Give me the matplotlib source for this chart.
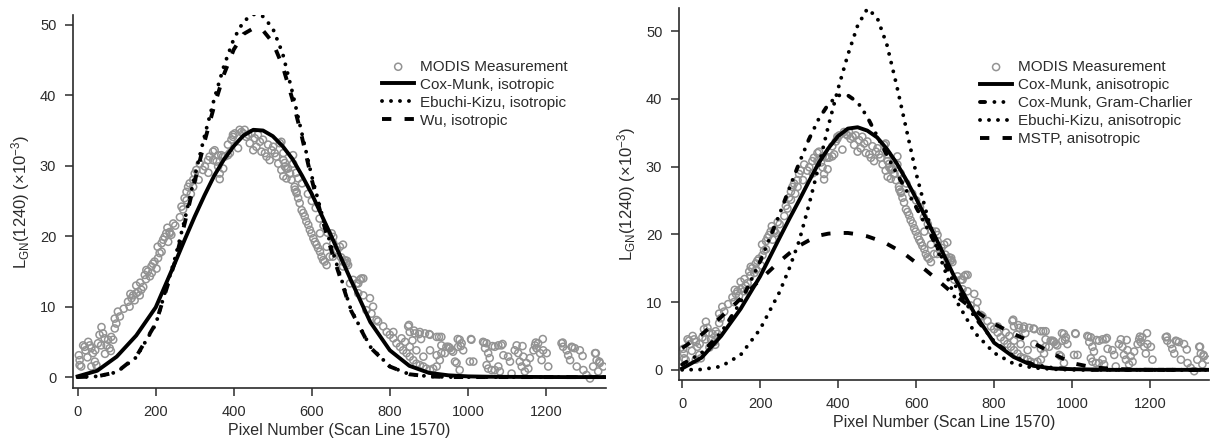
import matplotlib
matplotlib.use("Agg")
import matplotlib.pyplot as plt

plt.rcParams['font.family'] = ['Liberation Sans', 'DejaVu Sans']
plt.rcParams['mathtext.default'] = 'regular'

# curve sample positions (pixel number)
cx = [0, 50, 100, 150, 200, 250,
      275, 300, 325, 350, 375, 400, 425, 450, 475, 500, 525, 550, 575, 600, 625, 650,
      700, 750, 800, 850, 900, 950, 1000, 1050, 1100, 1150, 1200, 1250, 1300, 1350]

# left panel: isotropic models
cm_iso = [0.1, 0.9, 2.9, 5.9, 9.9, 16.3,
          19.6, 22.8, 25.8, 28.6, 30.9, 32.8, 34.3, 35.1, 35.0, 34.2, 32.8, 31.0, 28.6, 26.0, 23.0, 20.0,
          13.8, 7.8, 3.8, 1.6, 0.6, 0.25, 0.1, 0.05, 0.03, 0.02, 0.01, 0, 0, 0]
ek_iso = [0, 0.1, 0.7, 2.8, 7.5, 17.0,
          22.5, 28.5, 34.2, 39.5, 44.2, 48.0, 50.5, 51.5, 51.2, 49.5, 46.0, 40.5, 34.5, 28.5, 23.3, 18.5,
          9.6, 4.3, 1.5, 0.4, 0.1, 0, 0, 0, 0, 0, 0, 0, 0, 0]
wu_iso = [0, 0.1, 0.7, 2.9, 7.6, 16.5,
          22.0, 27.8, 33.4, 38.5, 43.0, 46.5, 48.7, 49.5, 49.2, 47.5, 44.2, 39.5, 34.0, 28.0, 22.8, 18.0,
          9.5, 4.2, 1.5, 0.4, 0.1, 0, 0, 0, 0, 0, 0, 0, 0, 0]

# right panel: anisotropic models
cm_aniso = [0.2, 1.8, 5.0, 9.0, 13.8, 19.5,
            22.3, 25.0, 27.8, 30.5, 32.7, 34.5, 35.6, 35.8, 35.3, 34.3, 32.6, 30.5, 28.0, 25.3, 22.4, 19.5,
            13.5, 8.3, 4.0, 1.9, 0.6, 0.2, 0.1, 0.05, 0, 0, 0, 0, 0, 0]
gc_aniso = [0.8, 2.5, 5.5, 10.0, 16.0, 23.0,
            26.8, 30.5, 34.0, 37.0, 39.2, 40.5, 40.5, 39.5, 37.3, 34.5, 31.7, 29.0, 26.5, 24.0, 21.3, 18.5,
            12.5, 7.8, 4.2, 2.0, 0.8, 0.3, 0.1, 0, 0, 0, 0, 0, 0, 0]
ek_aniso = [0, 0.05, 0.5, 2.2, 6.0, 11.5,
            15.0, 19.0, 24.3, 30.0, 36.0, 41.5, 46.5, 50.8, 53.3, 52.0, 48.0, 42.0, 35.5, 29.0, 23.5, 18.5,
            10.5, 5.5, 2.5, 0.9, 0.3, 0.1, 0, 0, 0, 0, 0, 0, 0, 0]
mstp_aniso = [3.2, 5.2, 7.8, 10.5, 13.3, 16.0,
              17.2, 18.3, 19.1, 19.8, 20.1, 20.2, 20.2, 20.0, 19.7, 19.2, 18.6, 17.8, 16.9, 15.8, 14.7, 13.5,
              11.0, 8.8, 6.8, 5.3, 4.0, 2.4, 1.0, 0.4, 0.15, 0.05, 0, 0, 0, 0]

meas_x = [3, 5, 5, 9, 14, 18, 27, 31, 35, 39,
          44, 48, 52, 56, 61, 65, 69, 74, 78, 82,
          86, 91, 95, 99, 103, 95, 129, 133, 138, 142,
          146, 150, 155, 159, 163, 168, 172, 176, 180, 185,
          189, 193, 197, 202, 206, 210, 215, 219, 223, 227,
          232, 236, 240,
          20, 25, 35, 45, 60, 70, 85, 108, 118, 135,
          150, 160, 175, 190, 205, 215, 230, 245,
          236, 250, 262, 270, 279, 290, 296, 310, 321, 335,
          347, 360, 372, 385, 398, 364,
          266, 274, 279, 283, 287, 296, 300, 304, 313, 326,
          334, 338, 347, 351, 356, 360, 364, 368, 373, 377,
          385, 390, 394, 398, 403, 411, 415, 420, 424, 428,
          432, 437, 441, 445, 450, 454, 458, 462, 467, 471,
          475, 480, 484, 488, 492, 497, 501, 505, 509, 514,
          518, 522, 527, 531, 535, 539, 544, 552, 556, 561,
          565,
          522, 527, 531, 527, 535, 544, 548, 552, 557, 561,
          565, 569, 574, 578, 582, 586, 591, 595, 599, 604,
          608, 612, 616, 621, 625, 629, 633, 638, 646, 651,
          655, 672, 680, 685, 689, 693, 698, 719, 727,
          560, 575, 590, 600, 610, 620, 630, 640, 655, 665,
          675, 690, 621, 638, 654, 680, 706,
          680, 689, 715, 723, 732, 719, 732, 749, 757, 740,
          753, 766, 770, 783, 792, 800, 809, 817, 826, 834,
          843, 851, 860, 868, 877, 886, 894, 903, 911, 920,
          809, 830, 839, 847, 851, 864, 877, 890, 903, 920,
          945, 851, 868, 886, 903, 920, 928, 941,
          932, 932, 932, 950, 954, 958, 962, 967, 971, 975,
          979, 984, 988, 979, 1005, 1009, 1014, 1039, 1044, 1048,
          1052, 1056, 1048, 1052, 1061, 1069, 1078, 1086, 1069, 1078,
          1082, 1091, 1103, 1108, 1112, 1120, 1125, 1129, 1133, 1138,
          1142, 1146, 1150, 1155, 1159, 1168, 1172, 1176, 1180, 1185,
          1189, 1193, 1202, 1206, 1240, 1244, 1253, 1257, 1262, 1266,
          1274, 1279, 1287, 1296, 1304, 1313, 1321, 1326, 1330, 1334,
          1338, 1347,
          849, 862, 875, 880, 858, 901, 926, 952, 974, 982,
          1008, 1042, 1063, 1089, 1140, 1174, 1192, 1243, 1268, 1294,
          1328, 1337]
meas_y = [3.1, 2.4, 1.7, 1.5, 4.5, 4.3, 5.0, 4.5, 4.1, 3.4,
          2.2, 1.7, 4.8, 6.0, 7.1, 6.2, 5.5, 4.5, 5.3, 4.1,
          5.7, 5.3, 6.9, 7.6, 9.3, 8.3, 10.7, 10.0, 11.2, 11.6,
          10.9, 11.9, 12.1, 11.6, 12.4, 12.8, 14.5, 15.2, 15.0, 14.3,
          15.7, 16.1, 16.4, 15.4, 16.9, 17.6, 17.8, 19.5, 19.9, 20.4,
          19.2, 20.6, 20.2,
          3.8, 2.8, 1.5, 3.8, 4.5, 3.3, 3.7, 8.6, 9.7, 11.8,
          13.0, 13.4, 13.9, 14.8, 18.5, 19.0, 21.2, 21.8,
          20.4, 21.5, 22.7, 23.8, 25.1, 26.0, 27.0, 28.0, 29.4, 29.0,
          30.8, 31.5, 31.3, 33.0, 34.1, 28.1,
          24.2, 25.4, 26.3, 27.0, 27.5, 28.0, 28.9, 29.4, 30.3, 29.9,
          30.8, 31.3, 32.0, 32.2, 30.6, 29.9, 28.9, 31.5, 29.6, 31.3,
          31.5, 31.8, 33.7, 34.4, 34.6, 32.5, 35.1, 34.8, 34.6, 35.1,
          34.1, 34.4, 33.2, 34.6, 32.2, 33.9, 32.7, 34.4, 33.4, 32.0,
          33.7, 31.8, 31.3, 33.0, 30.8, 32.2, 32.7, 31.8, 31.3, 30.3,
          33.2, 29.4, 30.8, 29.9, 28.2, 29.6, 28.9, 30.3, 27.0, 26.3,
          28.2,
          33.4, 31.8, 30.4, 28.5, 29.6, 28.9, 28.0, 31.5, 26.6, 26.1,
          25.4, 24.7, 23.7, 23.3, 22.8, 22.1, 21.6, 20.9, 20.4, 19.7,
          19.2, 18.8, 18.3, 17.8, 17.1, 16.6, 16.4, 15.9, 17.1, 20.4,
          19.9, 18.5, 18.8, 16.6, 16.2, 15.9, 13.3, 13.3, 14.0,
          29.0, 27.5, 26.0, 25.0, 24.0, 22.5, 21.5, 20.5, 19.0, 18.0,
          17.0, 16.5, 20.4, 18.5, 17.1, 15.7, 13.8,
          16.4, 16.1, 13.3, 13.8, 14.0, 11.9, 11.6, 11.2, 10.0, 9.5,
          9.0, 8.1, 7.9, 7.2, 6.4, 6.0, 5.5, 4.8, 4.3, 3.8,
          3.4, 2.9, 2.4, 1.9, 1.7, 1.5, 1.2, 1.0, 1.2, 1.5,
          6.4, 5.5, 5.0, 7.2, 6.4, 6.2, 6.4, 6.2, 6.0, 5.7,
          4.3, 4.3, 3.8, 2.9, 3.8, 3.1, 2.4, 3.4,
          5.7, 4.5, 3.4, 4.3, 4.1, 3.8, 3.6, 2.2, 2.0, 4.3,
          5.3, 4.8, 3.8, 1.0, 2.2, 5.3, 2.2, 5.0, 4.1, 4.8,
          3.4, 2.7, 1.7, 1.2, 1.0, 4.3, 4.5, 4.5, 1.0, 1.5,
          0.8, 3.1, 2.9, 2.2, 0.5, 3.8, 4.5, 3.4, 2.2, 1.5,
          2.9, 0.8, 2.0, 1.2, 2.7, 3.8, 4.5, 4.1, 4.8, 3.4,
          2.4, 3.8, 3.4, 1.5, 4.8, 4.3, 3.8, 3.1, 2.4, 4.3,
          4.1, 1.5, 3.8, 1.0, 0.3, -0.2, 1.5, 3.4, 2.4, 0.8,
          2.0, 1.5,
          7.4, 6.6, 6.1, 5.4, 5.2, 6.1, 5.7, 4.2, 5.4, 4.4,
          5.4, 4.9, 4.4, 4.7, 4.4, 4.9, 5.4, 4.9, 4.2, 3.0,
          3.4, 2.2]

axis_col = '#2b2b2b'
lw = 2.8
solid = dict(color='black', lw=lw, ls='-')
dotted = dict(color='black', lw=lw, ls=(0, (0.01, 2.3)), dash_capstyle='round')
dashed = dict(color='black', lw=lw, ls=(0, (2.4, 3.4)), dash_capstyle='butt')
dashdotdot = dict(color='black', lw=lw, ls=(0, (1.3, 2.4, 0.01, 2.3, 0.01, 2.4)),
                  dash_capstyle='round')

fig = plt.figure(figsize=(12.14, 4.43), dpi=100)
ax1 = fig.add_axes([73 / 1214, 55 / 443, 533 / 1214, 373 / 443])
ax2 = fig.add_axes([679 / 1214, 63 / 443, 530 / 1214, 372 / 443])


def draw_meas(ax):
    ax.scatter(meas_x, meas_y, s=26, facecolors='none', edgecolors='#939393',
               linewidths=1.1, label='MODIS Measurement', zorder=2)


def style(ax, ylim):
    ax.set_xlim(-12, 1354)
    ax.set_ylim(*ylim)
    for s in ['top', 'right']:
        ax.spines[s].set_visible(False)
    for s in ['left', 'bottom']:
        ax.spines[s].set_color(axis_col)
        ax.spines[s].set_linewidth(1.2)
    ax.set_xticks([0, 200, 400, 600, 800, 1000, 1200])
    ax.set_yticks([0, 10, 20, 30, 40, 50])
    ax.tick_params(direction='out', length=6, width=1.1, colors=axis_col,
                   labelsize=10.5, pad=6)
    ax.set_xlabel('Pixel Number (Scan Line 1570)', fontsize=11.5, color=axis_col, labelpad=3)
    ax.set_ylabel(r'L$_{GN}$(1240) (×10$^{-3}$)', fontsize=12, color=axis_col, labelpad=6)


# left panel
draw_meas(ax1)
ax1.plot(cx, cm_iso, label='Cox-Munk, isotropic', zorder=3, **solid)
ax1.plot(cx, ek_iso, label='Ebuchi-Kizu, isotropic', zorder=3, **dotted)
ax1.plot(cx, wu_iso, label='Wu, isotropic', zorder=3, **dashed)
style(ax1, (-1.55, 51.4))
ax1.legend(loc='upper left', bbox_to_anchor=(0.58, 0.88), frameon=False, fontsize=11,
           handlelength=2.1, handletextpad=0.4, labelspacing=0.26, borderpad=0,
           borderaxespad=0, labelcolor=axis_col)

# right panel
draw_meas(ax2)
ax2.plot(cx, cm_aniso, label='Cox-Munk, anisotropic', zorder=3, **solid)
ax2.plot(cx, gc_aniso, label='Cox-Munk, Gram-Charlier', zorder=3, **dashdotdot)
ax2.plot(cx, ek_aniso, label='Ebuchi-Kizu, anisotropic', zorder=3, **dotted)
ax2.plot(cx, mstp_aniso, label='MSTP, anisotropic', zorder=3, **dashed)
style(ax2, (-1.5, 53.4))
ax2.set_xlim(-8, 1351)
ax2.legend(loc='upper left', bbox_to_anchor=(0.568, 0.86), frameon=False, fontsize=11,
           handlelength=2.1, handletextpad=0.4, labelspacing=0.26, borderpad=0,
           borderaxespad=0, labelcolor=axis_col)

fig.savefig('out.png', dpi=100)
